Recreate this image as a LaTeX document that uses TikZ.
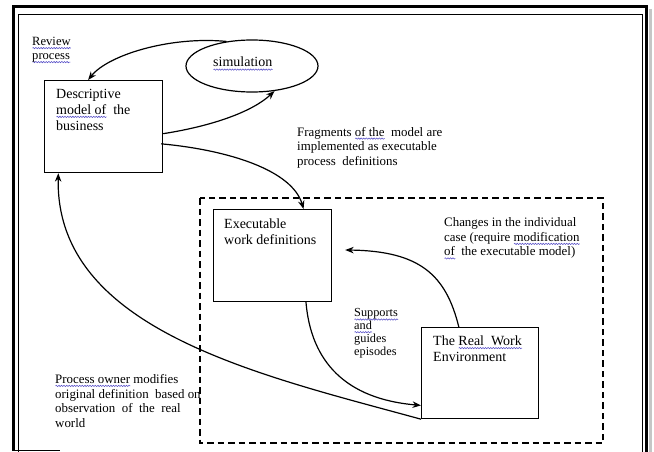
\documentclass[tikz,border=0pt]{standalone}
\usepackage{fontspec}
\setmainfont{Liberation Serif}
\usetikzlibrary{arrows.meta,shapes.geometric,calc,decorations.pathmorphing}

\definecolor{spellblue}{RGB}{88,80,200}
% wavy proofing mark under a word
\newsavebox\spellbox
\newdimen\spellwd
\newcommand\spellmark[1]{\sbox\spellbox{#1}\spellwd=\wd\spellbox\leavevmode
  \rlap{\tikz[baseline=0pt,x=1pt,y=1pt]\draw[spellblue,line width=0.55pt,
    decorate,decoration={snake,amplitude=0.65pt,segment length=2.6pt}]
    (0,-2.6) -- (\spellwd,-2.6);}\usebox\spellbox}

\begin{document}
\begin{tikzpicture}[x=1pt,y=-1pt,
  box/.style={draw,line width=1.2pt,rectangle,inner sep=0pt,anchor=north west},
  % multi-line labels are placed by the baseline of their last line
  boxtext/.style={anchor=base west,inner sep=0pt,align=left,
    font=\fontsize{14}{16}\selectfont},
  note/.style={anchor=base west,inner sep=0pt,align=left,
    font=\fontsize{12.9}{14.5}\selectfont},
  smallnote/.style={anchor=base west,inner sep=0pt,align=left,
    font=\fontsize{12.3}{12.7}\selectfont},
  flow/.style={line width=1.2pt,-{Stealth[length=8.5pt,width=6.5pt]}}]

% canvas
\useasboundingbox (0,0) rectangle (654,452);
\fill[white] (0,0) rectangle (654,452);

% page frame: thick outer rule, thin inner rule, soft shadow on the right
\draw[gray!45,line width=2.5pt] (650.5,9) -- (650.5,452);
\draw[line width=2.4pt] (13.5,451) -- (13.5,6.5) -- (646.5,6.5) -- (646.5,452);
\draw[line width=1.2pt] (13,450.5) -- (60,450.5);
\draw[line width=1pt] (18.5,452) -- (18.5,14.5) -- (642.5,14.5) -- (642.5,452);

% dashed boundary of the executable environment
\draw[line width=1.2pt,dash pattern=on 6.5pt off 4pt] (200,198) rectangle (603,443);

% main elements
\node[box,minimum width=118pt,minimum height=92pt] (desc) at (44,80) {};
\node[draw,line width=1.2pt,ellipse,minimum width=132pt,minimum height=52pt] (sim) at (252,66) {};
\node[box,minimum width=118pt,minimum height=92pt] (exe) at (213,209) {};
\node[box,minimum width=117pt,minimum height=91pt] (real) at (421,327) {};

% box labels
\node[boxtext] (desctext) at (56,130.3) {Descriptive\\\spellmark{model of}\ \ the\\business};
\node[font=\fontsize{14}{16}\selectfont,anchor=base west,inner sep=0pt] (simtext) at (213,67) {\spellmark{simulation}};
\node[boxtext] (exetext) at (224,244.5) {Executable\\work definitions};
\node[boxtext] (realtext) at (433,361.5) {The \spellmark{Real\ \ Work}\\Environment};

% annotations
\node[note,font=\fontsize{12.6}{14}\selectfont] (review) at (32,59.5) {\spellmark{Review}\\\spellmark{process}};
\node[note] (frag) at (297,165) {Fragments \spellmark{of the}\ \ model are\\implemented as executable\\process\ \ definitions};
\node[note] (changes) at (444,255.8) {Changes in the individual\\case (require \spellmark{modification}\\\spellmark{of}\ \ the executable model)};
\node[smallnote] (supports) at (354,355) {\spellmark{Supports}\\\spellmark{and}\\guides\\episodes};
\node[note,font=\fontsize{12.9}{14.7}\selectfont] (owner) at (55,427.4) {\spellmark{Process owner} modifies\\original definition\ \ based on\\observation\ \ of\ \ the\ \ real\\world};

% connectors
\draw[flow] (sim.136) .. controls (170,36) and (108,55) .. ($(desc.north west)!0.37!(desc.north east)$);
\draw[flow] ($(desc.north east)!0.576!(desc.south east)$) .. controls (212,126) and (252,112) .. (sim.-48);
\draw[flow] ($(desc.north east)!0.685!(desc.south east)+(-2,0)$) .. controls (228,150) and (292,170) .. ($(exe.north west)!0.76!(exe.north east)$);
\draw[flow] ($(exe.south west)!0.78!(exe.south east)$) .. controls (311,362) and (346,399) .. ($(real.north west)!0.85!(real.south west)$);
\coordinate (chgtip) at ($(exe.north east)+(13,41)$);
\draw[flow] ($(real.north west)!0.32!(real.north east)$) .. controls (446,275) and (420,251) .. (chgtip);
\draw[flow] (real.south west) .. controls (260,375) and (55,330) .. ($(desc.south west)!0.12!(desc.south east)$);

\end{tikzpicture}
\end{document}
